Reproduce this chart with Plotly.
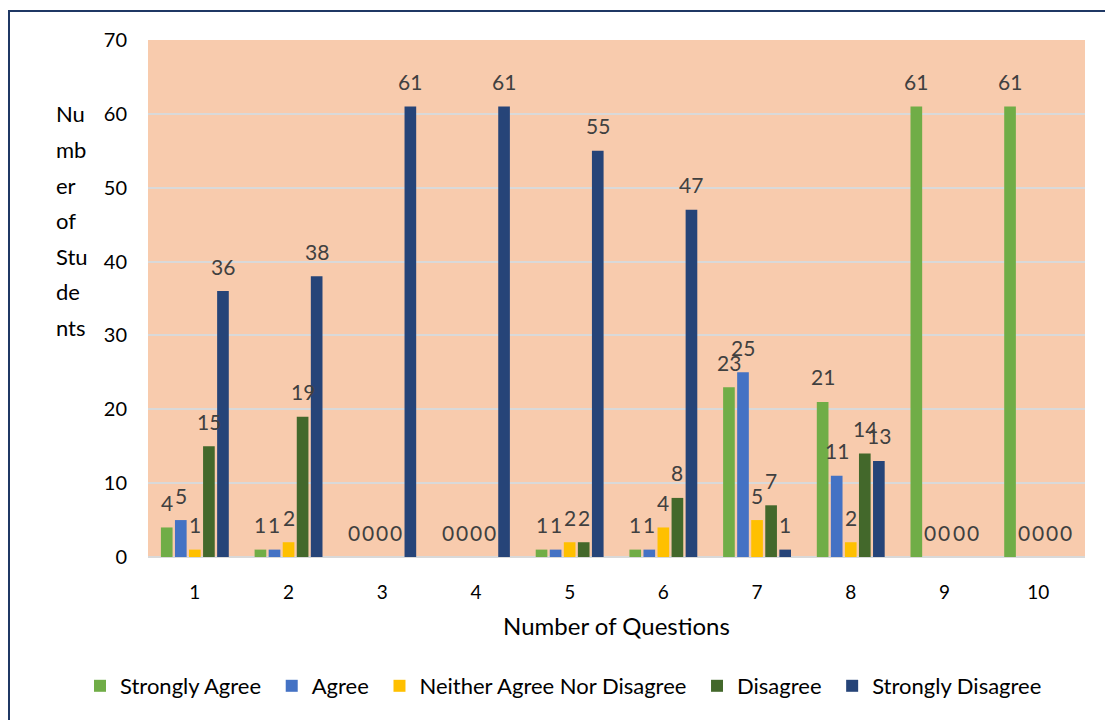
import plotly.graph_objects as go

questions = ["1", "2", "3", "4", "5", "6", "7", "8", "9", "10"]
series_names = ["Strongly Agree", "Agree", "Neither Agree Nor Disagree", "Disagree", "Strongly Disagree"]
strongly_agree = [4, 1, 0, 0, 1, 1, 23, 21, 61, 61]
agree = [5, 1, 0, 0, 1, 1, 25, 11, 0, 0]
neither = [1, 2, 0, 0, 2, 4, 5, 2, 0, 0]
disagree = [15, 19, 0, 0, 2, 8, 7, 14, 0, 0]
strongly_disagree = [36, 38, 61, 61, 55, 47, 1, 13, 0, 0]
colors = ["#70AD47", "#4472C4", "#FFC000", "#43682B", "#264478"]
y_ticks = [0, 10, 20, 30, 40, 50, 60, 70]
y_title_lines = ["Nu", "mb", "er", "of", "Stu", "de", "nts"]

FONT = "Lato, Calibri, Carlito, 'Open Sans', sans-serif"
all_series = [strongly_agree, agree, neither, disagree, strongly_disagree]

W, H = 1113, 720
OFF = 8  # page body margin
# plot area in page pixels: x 148..1085, y 40..557
L = 148 - OFF
T = 40 - OFF
R = W - (1085 - OFF)
B = H - (557 - OFF)
pw, ph = W - L - R, H - T - B
BARGAP = 0.25
BARGROUPGAP = 0.17


def px_x(x):
    return (x - OFF - L) / pw


def px_y(y):
    return (H - B - (y - OFF)) / ph


fig = go.Figure()
for name, vals, col in zip(series_names, all_series, colors):
    fig.add_trace(go.Bar(
        x=questions, y=vals, name=name + "\u00a0",
        marker=dict(color=col, line=dict(width=0)),
    ))

# data labels above each bar (category index positions on the category axis)
slot_px = pw / len(questions) * (1 - BARGAP) / len(all_series)
for j, vals in enumerate(all_series):
    for qi, v in enumerate(vals):
        fig.add_annotation(x=qi, y=v, text=str(v), showarrow=False,
                           xshift=(j - (len(all_series) - 1) / 2) * slot_px,
                           yshift=25, yanchor="middle", xanchor="center",
                           font=dict(family=FONT, size=21, color="#404040"))

for i, line in enumerate(y_title_lines):
    fig.add_annotation(text=line, xref="paper", yref="paper",
                       x=px_x(54), y=px_y(114 + i * 35.5),
                       xanchor="left", yanchor="middle", showarrow=False,
                       font=dict(family=FONT, size=22, color="#000000"))

fig.add_shape(type="rect", xref="paper", yref="paper",
              x0=px_x(OFF + 1), x1=px_x(1140), y0=px_y(11), y1=px_y(760),
              line=dict(color="#1F3864", width=2), fillcolor="rgba(0,0,0,0)", layer="above")

fig.update_layout(
    width=W, height=H,
    margin=dict(l=L, r=R, t=T, b=B, autoexpand=False),
    paper_bgcolor="white", plot_bgcolor="#F8CBAD",
    barmode="group", bargap=BARGAP, bargroupgap=BARGROUPGAP,
    font=dict(family=FONT, size=20, color="#000000"),
    xaxis=dict(title=dict(text="Number of Questions", font=dict(size=24), standoff=16),
               tickfont=dict(size=19), showgrid=False, ticks="", showline=False,
               ticklabelstandoff=22, automargin=False, type="category",
               range=[-0.5, len(questions) - 0.5]),
    yaxis=dict(range=[0, 70], tickvals=y_ticks, showgrid=True, gridcolor="#D9D9D9",
               gridwidth=2, zeroline=True, zerolinecolor="#D9D9D9", zerolinewidth=2,
               tickfont=dict(size=20), ticklabelstandoff=20, ticks="", automargin=False),
    legend=dict(orientation="h", xref="paper", yref="paper",
                x=px_x(80), y=px_y(686), xanchor="left", yanchor="middle",
                font=dict(size=22), itemwidth=30, traceorder="normal"),
    showlegend=True,
)

fig.write_html("out.html")
